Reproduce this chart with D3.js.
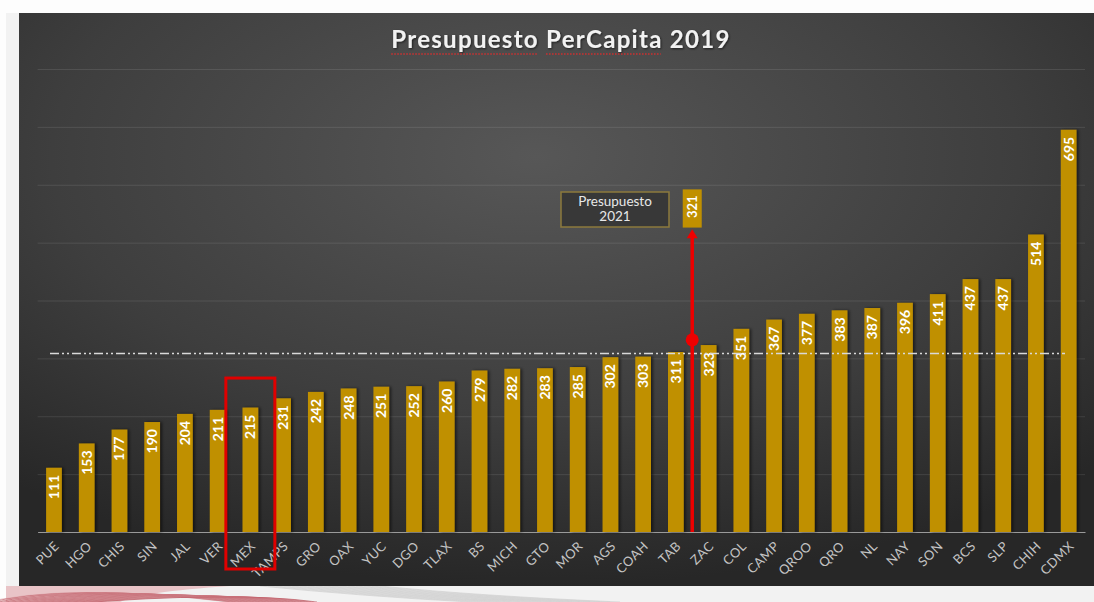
<!DOCTYPE html>
<html>
<head>
<meta charset="utf-8">
<script src="https://cdn.jsdelivr.net/npm/d3@7"></script>
<style>
  html, body { margin: 0; padding: 0; background: #f3f3f3; }
  svg { display: block; }
</style>
</head>
<body>
<svg id="chart" width="1094" height="602"></svg>
<script>
// estados ordenados de menor a mayor
var estados = ["PUE", "HGO", "CHIS", "SIN", "JAL", "VER", "MEX", "TAMPS", "GRO", "OAX", "YUC", "DGO",
  "TLAX", "BS", "MICH", "GTO", "MOR", "AGS", "COAH", "TAB", "ZAC", "COL", "CAMP", "QROO", "QRO",
  "NL", "NAY", "SON", "BCS", "SLP", "CHIH", "CDMX"];
var presupuesto = [111, 153, 177, 190, 204, 211, 215, 231, 242, 248, 251, 252,
  260, 279, 282, 283, 285, 302, 303, 311, 323, 351, 367, 377, 383,
  387, 396, 411, 437, 437, 514, 695];
var yTicks = [0, 100, 200, 300, 400, 500, 600, 700, 800];

// anotacion 2021
var estadoMarcado = "MEX";
var nota2021 = "321";
var notaTexto = ["Presupuesto", "2021"];
var flechaDesde = 332, flechaHasta = 523, cajaBase = 526, cajaTope = 592, marcoTope = 266;

var svg = d3.select("#chart"),
    W = 1094, H = 602,
    pLeft = 37.6, pRight = 1085, pTop = 69, pBottom = 532;

var defs = svg.append("defs");
var bg = defs.append("radialGradient").attr("id", "bg")
  .attr("cx", "48%").attr("cy", "25%").attr("r", "75%");
bg.append("stop").attr("offset", "0%").attr("stop-color", "#575757");
bg.append("stop").attr("offset", "60%").attr("stop-color", "#3e3e3e");
bg.append("stop").attr("offset", "100%").attr("stop-color", "#272727");
defs.append("filter").attr("id", "sombra").attr("x", "-50%").attr("width", "200%")
  .append("feDropShadow").attr("dx", 2).attr("dy", 0).attr("stdDeviation", 1.8)
  .attr("flood-color", "#000").attr("flood-opacity", 0.55);
defs.append("filter").attr("id", "sombraTxt")
  .append("feDropShadow").attr("dx", 1).attr("dy", 1).attr("stdDeviation", 1)
  .attr("flood-color", "#000").attr("flood-opacity", 0.6);

// fondo de la diapositiva, con un poco de decoracion abajo
svg.append("rect").attr("width", W).attr("height", H).attr("fill", "#f2f2f2");
svg.append("rect").attr("x", 0).attr("y", 0).attr("width", W).attr("height", 13).attr("fill", "#fdfdfd");
svg.append("rect").attr("x", 0).attr("y", 0).attr("width", 6).attr("height", H).attr("fill", "#fdfdfd");
svg.append("path").attr("d", "M6,586 L230,586 Q140,592 120,602 L6,602 Z").attr("fill", "#e9c4c7");
var deco = svg.append("g").attr("fill", "none");
d3.range(0, 30).forEach(function (i) {
  deco.append("path")
    .attr("d", "M" + (-20 + i * 3) + ",604 Q" + (60 + i * 6) + "," + (582 + i * 0.3) + " " + (230 + i * 3) + ",602")
    .attr("stroke", i % 2 ? "#b9505c" : "#dca0a6").attr("stroke-width", 0.8).attr("opacity", 0.8);
});
d3.range(0, 16).forEach(function (i) {
  deco.append("path")
    .attr("d", "M" + (260 + i * 8) + ",586 Q" + (360 + i * 8) + ",596 " + (470 + i * 10) + ",602")
    .attr("stroke", "#d0d0d0").attr("stroke-width", 0.7);
});

svg.append("rect").attr("x", 19).attr("y", 13).attr("width", W - 19).attr("height", 573)
  .attr("fill", "url(#bg)");

var x = d3.scaleBand().domain(estados).range([pLeft, pRight]).paddingInner(0.52).paddingOuter(0.26);
var y = d3.scaleLinear().domain([0, 800]).range([pBottom, pTop]);

// titulo
var titulo = svg.append("text").attr("x", 561).attr("y", 48).attr("text-anchor", "middle")
  .attr("font-family", "Lato, sans-serif").attr("font-weight", "bold").attr("font-size", 24)
  .attr("letter-spacing", 1.3)
  .attr("fill", "#f2f2f2").attr("filter", "url(#sombraTxt)");
titulo.append("tspan").attr("class", "pal").text("Presupuesto");
titulo.append("tspan").text(" ");
titulo.append("tspan").attr("class", "pal").text("PerCapita");
titulo.append("tspan").text(" 2019");
titulo.selectAll("tspan.pal").each(function () {
  var b = this.getBBox();
  svg.append("line").attr("x1", b.x).attr("x2", b.x + b.width - 2).attr("y1", 54).attr("y2", 54)
    .attr("stroke", "#d03030").attr("stroke-width", 1.5).attr("stroke-dasharray", "1.5,1.5");
});

// lineas de la rejilla
svg.append("g").selectAll("line").data(yTicks.slice(1)).enter().append("line")
  .attr("x1", pLeft).attr("x2", pRight)
  .attr("y1", function (d) { return y(d) + 0.5; }).attr("y2", function (d) { return y(d) + 0.5; })
  .attr("stroke", "#ffffff").attr("stroke-opacity", 0.1);

// eje x
var ejeX = svg.append("g").attr("transform", "translate(0," + pBottom + ")")
  .call(d3.axisBottom(x).tickSize(0).tickPadding(0));
ejeX.select(".domain").attr("stroke", "#9a9a9a").attr("stroke-width", 1.2);
ejeX.selectAll(".tick text")
  .attr("font-family", "Lato, sans-serif").attr("font-size", 13).attr("fill", "#c4c4c4")
  .attr("letter-spacing", 0.4)
  .attr("text-anchor", "end").attr("dy", 0)
  .attr("transform", "translate(6,15) rotate(-45)");

// barras
var barras = svg.append("g");
barras.selectAll("rect").data(presupuesto).enter().append("rect")
  .attr("x", function (d, i) { return x(estados[i]); })
  .attr("y", function (d) { return y(d); })
  .attr("width", x.bandwidth())
  .attr("height", function (d) { return y(0) - y(d); })
  .attr("fill", "#c09000").attr("filter", "url(#sombra)");
barras.selectAll("text").data(presupuesto).enter().append("text")
  .attr("transform", function (d, i) {
    return "translate(" + (x(estados[i]) + x.bandwidth() / 2) + "," + (y(d) + 7) + ") rotate(-90)";
  })
  .attr("text-anchor", "end").attr("dy", "0.36em")
  .attr("font-family", "Lato, sans-serif").attr("font-weight", "bold").attr("font-size", 14)
  .attr("fill", "#ffffff")
  .text(function (d) { return d; });

// promedio
var promedio = d3.mean(presupuesto);
svg.append("line").attr("x1", 50).attr("x2", 1065)
  .attr("y1", y(promedio)).attr("y2", y(promedio))
  .attr("stroke", "#d9d9d9").attr("stroke-width", 1.6).attr("stroke-dasharray", "9,3,2,3,2,3");

// marco rojo
var cx = x(estadoMarcado) + x.bandwidth() / 2;
svg.append("rect").attr("x", cx - 24.5).attr("y", y(marcoTope)).attr("width", 49)
  .attr("height", pBottom + 37 - y(marcoTope))
  .attr("fill", "none").attr("stroke", "#e00000").attr("stroke-width", 3);

// flecha al presupuesto 2021
var fx = (x("TAB") + x("ZAC") + x.bandwidth()) / 2;
svg.append("line").attr("x1", fx).attr("x2", fx).attr("y1", pBottom).attr("y2", y(flechaHasta) + 6)
  .attr("stroke", "#ee0000").attr("stroke-width", 3.5);
svg.append("path")
  .attr("d", "M" + (fx - 5.5) + "," + (y(flechaHasta) + 9) + " L" + fx + "," + y(flechaHasta) + " L" + (fx + 5.5) + "," + (y(flechaHasta) + 9) + "Z")
  .attr("fill", "#ee0000");
svg.append("circle").attr("cx", fx).attr("cy", y(flechaDesde)).attr("r", 6.5).attr("fill", "#ee0000");

svg.append("rect").attr("x", fx - 9.5).attr("y", y(cajaTope)).attr("width", 19)
  .attr("height", y(cajaBase) - y(cajaTope)).attr("fill", "#c09000");
svg.append("text")
  .attr("transform", "translate(" + fx + "," + (y(cajaTope) + 6) + ") rotate(-90)")
  .attr("text-anchor", "end").attr("dy", "0.36em")
  .attr("font-family", "Lato, sans-serif").attr("font-weight", "bold").attr("font-size", 13)
  .attr("fill", "#ffffff").text(nota2021);

svg.append("rect").attr("x", 561).attr("y", 192).attr("width", 108).attr("height", 35)
  .attr("fill", "#383838").attr("stroke", "#8c7a3c").attr("stroke-width", 1.5);
svg.append("text").attr("x", 615).attr("text-anchor", "middle")
  .attr("font-family", "Lato, sans-serif").attr("font-size", 13.5).attr("fill", "#e8e8e8")
  .selectAll("tspan").data(notaTexto).enter().append("tspan")
  .attr("x", 615).attr("y", function (d, i) { return 206 + i * 15; })
  .text(function (d) { return d; });
</script>
</body>
</html>
